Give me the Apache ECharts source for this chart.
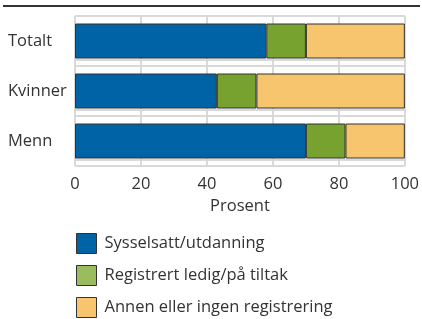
<!DOCTYPE html>
<html>
<head>
<meta charset="utf-8">
<script src="https://cdn.jsdelivr.net/npm/echarts@6/dist/echarts.min.js"></script>
<style>
  html, body { margin: 0; padding: 0; background: #fff; }
  #chart { width: 422px; height: 319px; }
</style>
</head>
<body>
<div id="chart"></div>
<script>
// kategorier, ovenfra og ned
const categories = ['Totalt', 'Kvinner', 'Menn'];
const seriesNames = ['Sysselsatt/utdanning', 'Registrert ledig/på tiltak', 'Annen eller ingen registrering'];
const sysselsatt = [58, 43, 70];
const registrert = [12, 12, 12];
const annen = [30, 45, 18];
const xTicks = [0, 20, 40, 60, 80, 100];

const barColors = ['#0063a6', '#78a22f', '#f6c56e'];
const legendColors = ['#0063a6', '#9bbb5f', '#f6c56e'];
const font = '"Open Sans", "Noto Sans", sans-serif';
const gridGray = '#d9d9d9';

const chart = echarts.init(document.getElementById('chart'));

const makeSeries = (name, data, i) => ({
  name: name,
  type: 'bar',
  stack: 'total',
  barWidth: 35,
  data: data,
  itemStyle: { color: barColors[i], borderColor: '#333', borderWidth: 1 },
  emphasis: { disabled: true }
});

chart.setOption({
  animation: false,
  textStyle: { fontFamily: font },
  graphic: [{
    type: 'line',
    shape: { x1: 3, y1: 6, x2: 420, y2: 6 },
    style: { stroke: '#333', lineWidth: 2 }
  }],
  grid: [
    { left: 75, right: 16, top: 16, height: 150 },
    // ekstra grå linjer rett under hver stolpe
    { left: 75, right: 16, top: 60, height: 100 }
  ],
  legend: {
    orient: 'vertical',
    left: 76,
    top: 233,
    padding: 0,
    height: 90,
    itemWidth: 20,
    itemHeight: 20,
    itemGap: 11,
    icon: 'rect',
    selectedMode: false,
    textStyle: { fontSize: 16.5, color: '#333', fontFamily: font, padding: [0, 0, 0, 3] },
    data: seriesNames.map((n, i) => ({
      name: n,
      itemStyle: { color: legendColors[i], borderColor: '#333', borderWidth: 1 }
    }))
  },
  xAxis: [{
    type: 'value',
    min: xTicks[0],
    max: xTicks[xTicks.length - 1],
    interval: 20,
    name: 'Prosent',
    nameLocation: 'middle',
    nameGap: 32,
    nameTextStyle: { fontSize: 16.5, color: '#333', fontFamily: font },
    axisLine: { show: false },
    axisTick: { show: false },
    axisLabel: { fontSize: 16.5, color: '#333', margin: 10, fontFamily: font },
    splitLine: { show: true, lineStyle: { color: gridGray, width: 2 } }
  }, {
    gridIndex: 1,
    type: 'value',
    min: 0,
    max: 100,
    show: false
  }],
  yAxis: [{
    type: 'category',
    data: categories,
    inverse: true,
    axisLine: { show: false },
    axisTick: { show: false },
    axisLabel: { fontSize: 16.5, color: '#333', align: 'left', margin: 67, fontFamily: font },
    splitLine: { show: true, lineStyle: { color: gridGray, width: 2 } }
  }, {
    gridIndex: 1,
    type: 'category',
    data: ['a', 'b'],
    axisLine: { show: false },
    axisTick: { show: false },
    axisLabel: { show: false },
    splitLine: { show: true, lineStyle: { color: gridGray, width: 2 } }
  }],
  series: [
    makeSeries(seriesNames[0], sysselsatt, 0),
    makeSeries(seriesNames[1], registrert, 1),
    makeSeries(seriesNames[2], annen, 2)
  ]
});
</script>
</body>
</html>
